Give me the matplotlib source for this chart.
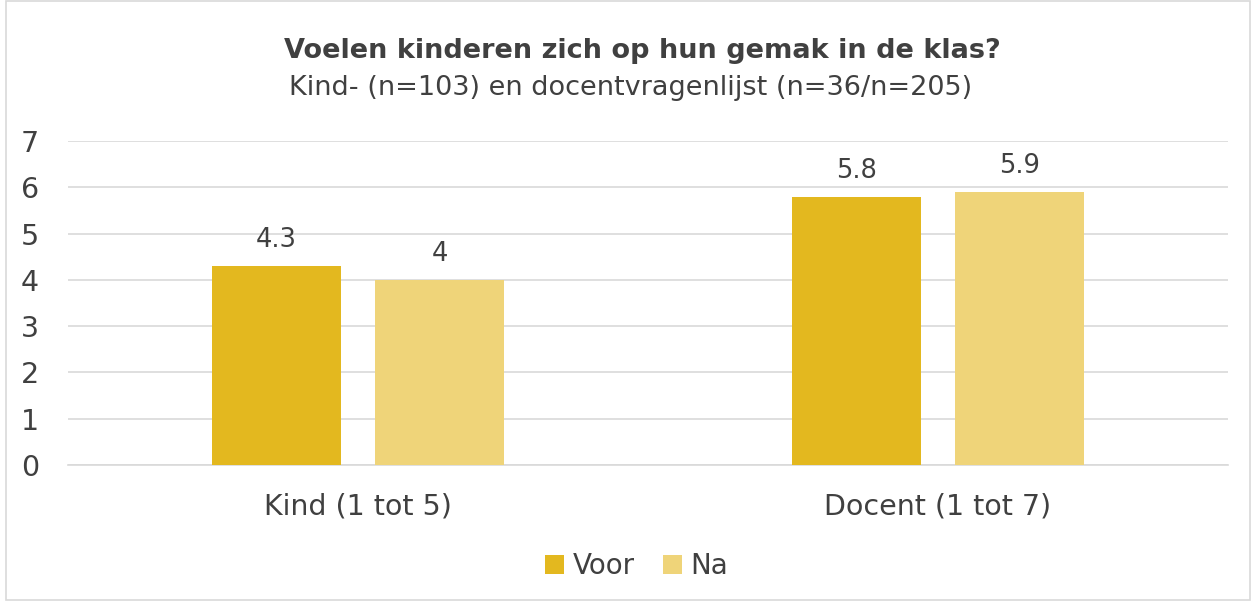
import matplotlib
matplotlib.use("Agg")
from matplotlib import pyplot as plt
from matplotlib.patches import Rectangle
import numpy as np

categories = ["Kind (1 tot 5)", "Docent (1 tot 7)"]
series_names = ["Voor", "Na"]
voor = [4.3, 5.8]
na = [4.0, 5.9]
value_labels_voor = ["4.3", "5.8"]
value_labels_na = ["4", "5.9"]
yticks = [0, 1, 2, 3, 4, 5, 6, 7]

c_voor = "#E3B81F"
c_na = "#EFD479"
txt = "#404040"

fig = plt.figure(figsize=[12.53, 6.01], dpi=100)
ax = fig.add_axes([0.0543, 0.2263, 0.9257, 0.5391])

x = np.arange(len(categories))
w = 0.222
off = 0.141
b1 = ax.bar(x - off, voor, w, color=c_voor, label=series_names[0], zorder=3)
b2 = ax.bar(x + off, na, w, color=c_na, label=series_names[1], zorder=3)

for bars, labels in [(b1, value_labels_voor), (b2, value_labels_na)]:
    for r, lab in zip(bars, labels):
        ax.annotate(lab, (r.get_x() + r.get_width() / 2, r.get_height()),
                    xytext=(0, 9), textcoords="offset points",
                    ha="center", va="bottom", fontsize=18.5, color=txt)

ax.set_xlim(-0.5, 1.5)
ax.set_ylim(0, 7)
ax.set_yticks(yticks)
ax.set_yticklabels([str(v) for v in yticks], fontsize=20.5, color=txt)
ax.set_xticks(x)
ax.set_xticklabels(categories, fontsize=20.5, color=txt)
ax.tick_params(axis="both", length=0)
ax.tick_params(axis="x", pad=20)
ax.tick_params(axis="y", pad=21)
ax.yaxis.grid(True, color="#D9D9D9", linewidth=1.2, zorder=0)
for s in ["top", "right", "left"]:
    ax.spines[s].set_visible(False)
ax.spines["bottom"].set_color("#D9D9D9")
ax.spines["bottom"].set_linewidth(1.2)

fig.text(0.513, 0.915, "Voelen kinderen zich op hun gemak in de klas?",
         ha="center", va="center", fontsize=19.5, fontweight="bold", color=txt)
fig.text(0.503, 0.853, "Kind- (n=103) en docentvragenlijst (n=36/n=205)",
         ha="center", va="center", fontsize=19.5, color=txt)

leg = fig.legend(loc="center", bbox_to_anchor=(0.508, 0.058), ncol=2,
                 frameon=False, fontsize=20, handlelength=0.7, handleheight=0.7,
                 handletextpad=0.3, columnspacing=1.0)
for t in leg.get_texts():
    t.set_color(txt)

fig.patches.append(Rectangle((0.005, 0.001), 0.993, 0.997, transform=fig.transFigure,
                             fill=False, edgecolor="#D9D9D9", linewidth=1.2))

fig.savefig("out.png", dpi=100)
